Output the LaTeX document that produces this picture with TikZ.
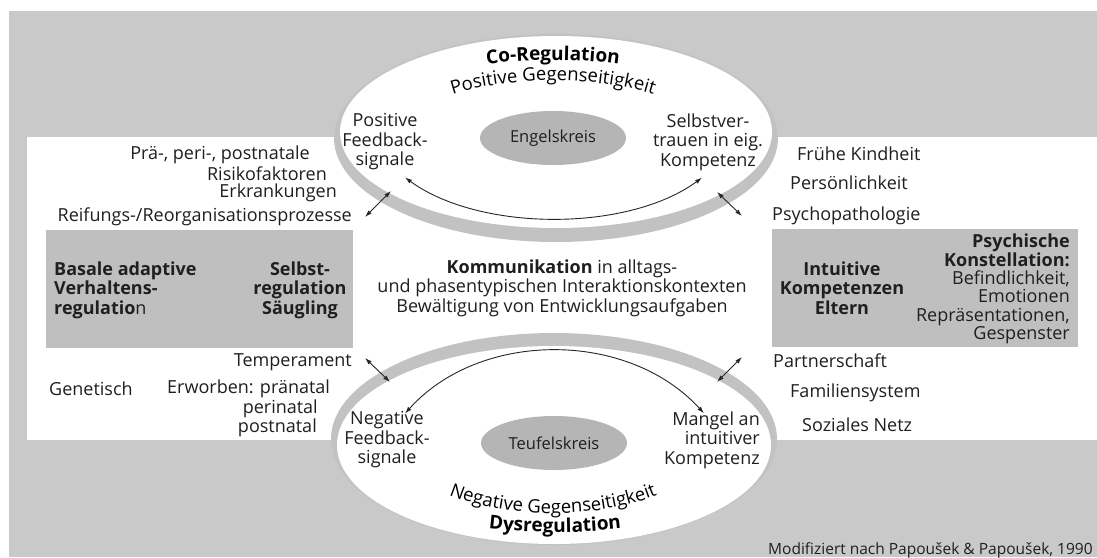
\documentclass[tikz,border=0pt]{standalone}
\usepackage{fontspec}
\setmainfont{Open Sans}
\usetikzlibrary{arrows.meta,shapes.geometric,decorations.text}

\definecolor{bggray}{gray}{0.79}
\definecolor{boxgray}{gray}{0.75}
\definecolor{ringgray}{gray}{0.76}
\definecolor{kreisgray}{gray}{0.71}
\newcommand{\curvefont}{\fontsize{18.5}{20}\selectfont}

\begin{document}
\begin{tikzpicture}[x=1pt, y=-1pt, inner sep=0pt, font=\fontsize{18}{19.5}\selectfont, text=black!88]
    \tikzstyle{text_style} = [align=center]
    \tikzstyle{bold_style} = [align=center, font=\fontsize{18}{19.5}\selectfont\bfseries]
    \tikzstyle{kreis_style} = [ellipse, fill=kreisgray, minimum width=146pt, minimum height=54pt, font=\fontsize{16.5}{19}\selectfont]
    \tikzstyle{arrow_style} = [draw=black!85, line width=0.9pt, {Latex[length=7pt,width=4.5pt]}-{Latex[length=7pt,width=4.5pt]}]
    \tikzstyle{curve_style} = [decorate, decoration={text along path, text align=center}]

    \useasboundingbox (0,0) rectangle (1097,557);
    \fill[white] (0,0) rectangle (1097,557);
    \fill[bggray] (9,11) rectangle (1097,557);
    \fill[white] (27,137) rectangle (1097,440);
    \fill[boxgray] (46,230) rectangle (353,348);
    \fill[boxgray] (772,229) rectangle (1078,347);

    % Co-Regulation / Dysregulation
    \fill[ringgray] (556,138) ellipse [x radius=222, y radius=104];
    \fill[white] (556,132) ellipse [x radius=216, y radius=96];
    \fill[ringgray] (554,439) ellipse [x radius=223, y radius=106];
    \fill[white] (554,445) ellipse [x radius=217, y radius=99];

    \path[curve_style, decoration={text={|\fontsize{19}{20}\selectfont\bfseries|Co-Regulation}}] (472,67) .. controls (515,58) and (590,58) .. (634,67);
    \path[curve_style, decoration={text={|\curvefont|Positive Gegenseitigkeit}}] (438,100) .. controls (500,74) and (605,74) .. (668,100);
    \path[curve_style, decoration={text={|\curvefont|Negative Gegenseitigkeit}}] (438,490) .. controls (500,521) and (605,521) .. (668,490);
    \path[curve_style, decoration={text={|\fontsize{19}{20}\selectfont\bfseries|Dysregulation}}] (448,521) .. controls (500,536) and (610,536) .. (662,521);

    % inside the circles
    \node[text_style] (posfb) at (385,142) {Positive\\Feedback-\\signale};
    \node[kreis_style] (engel) at (553,138) {Engelskreis};
    \node[text_style] (selbst) at (708,142) {Selbstver-\\trauen in eig.\\Kompetenz};
    \node[text_style] (negfb) at (387,440) {Negative\\Feedback-\\signale};
    \node[kreis_style] (teufel) at (554,443) {Teufelskreis};
    \node[text_style, align=right, anchor=east] (mangel) at (760,440) {Mangel an\\intuitiver\\Kompetenz};

    % left side
    \node[text_style, anchor=east] (prae) at (310,155) {Prä-, peri-, postnatale};
    \node[text_style, anchor=east] (risiko) at (327,174) {Risikofaktoren};
    \node[text_style, anchor=east] (erkrank) at (337,193) {Erkrankungen};
    \node[text_style, anchor=east] (reifung) at (352,217) {Reifungs-/Reorganisationsprozesse};
    \node[bold_style, align=left, anchor=west] (basale) at (54,290) {Basale adaptive\\Verhaltens-\\regulatio{\mdseries n}};
    \node[bold_style] (selbstreg) at (300,290) {Selbst-\\regulation\\Säugling};
    \node[text_style, anchor=east] (temper) at (352,362) {Temperament};
    \node[text_style, anchor=west] (genet) at (49,389) {Genetisch};
    \node[text_style, anchor=west] (erworben) at (167,389) {Erworben: pränatal};
    \node[text_style, anchor=east] (perinat) at (318,409) {perinatal};
    \node[text_style, anchor=east] (postnat) at (317,428) {postnatal};

    % middle
    \node[text_style] (komm) at (562,288) {\textbf{Kommunikation} in alltags-\\und phasentypischen Interaktionskontexten\\Bewältigung von Entwicklungsaufgaben};

    % right side
    \node[text_style, anchor=west] (fruehe) at (797,154) {Frühe Kindheit};
    \node[text_style, anchor=west] (persoen) at (790,183) {Persönlichkeit};
    \node[text_style, anchor=west] (psycho) at (772,216) {Psychopathologie};
    \node[bold_style] (intuit) at (842,288) {Intuitive\\Kompetenzen\\Eltern};
    \node[text_style, align=right, anchor=east, font=\fontsize{18}{18.4}\selectfont] (konst) at (1070,289) {\textbf{Psychische}\\\textbf{Konstellation:}\\Befindlichkeit,\\Emotionen\\Repräsentationen,\\Gespenster};
    \node[text_style, anchor=west] (partner) at (773,361) {Partnerschaft};
    \node[text_style, anchor=west] (familie) at (790,393) {Familiensystem};
    \node[text_style, anchor=west] (sozial) at (802,425) {Soziales Netz};

    \node[anchor=west, font=\fontsize{15.5}{17}\selectfont] (quelle) at (768,550) {Modifiziert nach Papoušek \& Papoušek, 1990};

    % arrows
    \coordinate (in_tl) at (391,191);
    \coordinate (in_tr) at (717,192);
    \coordinate (in_bl) at (390,382);
    \coordinate (in_br) at (717,382);
    \draw[arrow_style] ([shift={(20pt,-7pt)}]posfb.south) .. controls (480,232) and (628,232) .. ([shift={(-6pt,-7pt)}]selbst.south);
    \draw[arrow_style] ([shift={(18pt,-2pt)}]negfb.north) .. controls (480,330) and (628,330) .. ([shift={(-8pt,-2pt)}]mangel.north);
    \draw[arrow_style] ([xshift=13pt]reifung.east) -- (in_tl);
    \draw[arrow_style] ([xshift=-30pt]psycho.west) -- (in_tr);
    \draw[arrow_style] ([shift={(13pt,4pt)}]temper.east) -- (in_bl);
    \draw[arrow_style] ([shift={(-31pt,4pt)}]partner.west) -- (in_br);
\end{tikzpicture}
\end{document}
